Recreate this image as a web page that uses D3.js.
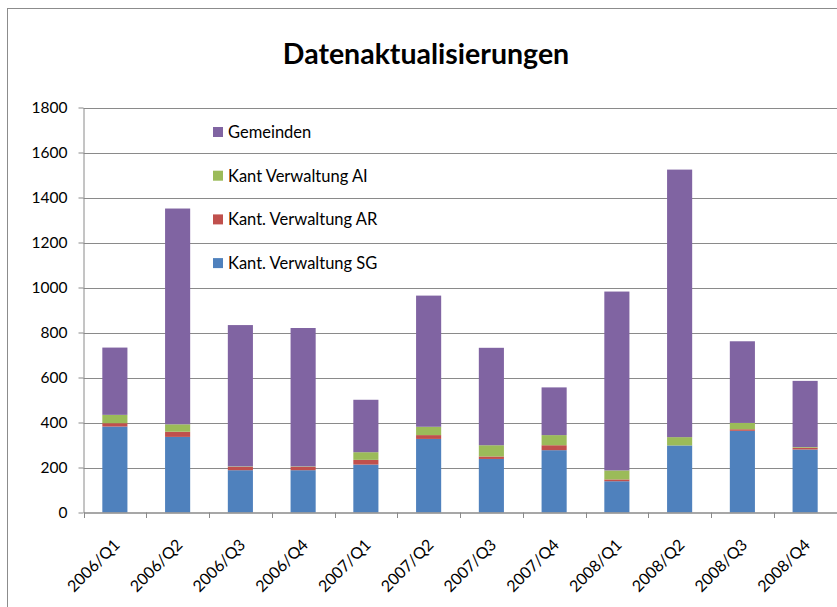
<!DOCTYPE html>
<html>
<head>
<meta charset="utf-8">
<script src="https://cdn.jsdelivr.net/npm/d3@7"></script>
<style>
  body { margin: 0; background: #fff; }
  svg { display: block; font-family: Lato, "Open Sans", sans-serif; }
</style>
</head>
<body>
<svg width="837" height="607"></svg>
<script>
const quarters = ['2006/Q1', '2006/Q2', '2006/Q3', '2006/Q4', '2007/Q1', '2007/Q2',
                  '2007/Q3', '2007/Q4', '2008/Q1', '2008/Q2', '2008/Q3', '2008/Q4'];
const seriesNames = ['Kant. Verwaltung SG', 'Kant. Verwaltung AR', 'Kant Verwaltung AI', 'Gemeinden'];
const sg = [382, 336, 188, 188, 213, 327, 238, 277, 139, 298, 363, 280];
const ar = [15, 23, 15, 15, 21, 17, 11, 22, 8, 0, 7, 8];
const ai = [37, 33, 2, 2, 34, 37, 50, 45, 40, 37, 28, 3];
const gemeinden = [299, 959, 628, 615, 233, 583, 433, 212, 795, 1189, 363, 294];
const yTicks = [0, 200, 400, 600, 800, 1000, 1200, 1400, 1600, 1800];
const colors = ['#4F81BD', '#C0504D', '#9BBB59', '#8064A2'];

const svg = d3.select('svg');

// chart frame (right/bottom edges are off-screen)
svg.append('rect')
  .attr('x', 7.5).attr('y', 8.5)
  .attr('width', 900).attr('height', 700)
  .attr('fill', 'none')
  .attr('stroke', '#8c8c8c');

// title
svg.append('text')
  .attr('x', 426).attr('y', 64)
  .attr('text-anchor', 'middle')
  .style('font-size', '28.5px')
  .style('font-weight', 'bold')
  .text('Datenaktualisierungen');

const x = d3.scaleBand()
  .domain(quarters)
  .range([83.5, 836.5])
  .paddingInner(0.6)
  .paddingOuter(0.3);

const y = d3.scaleLinear()
  .domain([0, 1800])
  .range([512.5, 107.5]);

// gridlines
svg.append('g')
  .selectAll('line')
  .data(yTicks.slice(1))
  .join('line')
  .attr('x1', 83.5).attr('x2', 837)
  .attr('y1', d => Math.round(y(d)) + 0.5)
  .attr('y2', d => Math.round(y(d)) + 0.5)
  .attr('stroke', '#8a8a8a');

// y axis
const yAxis = svg.append('g')
  .attr('transform', 'translate(83.5,0)')
  .call(d3.axisLeft(y).tickValues(yTicks).tickFormat(d3.format('d'))
    .tickSize(5).tickPadding(11).tickSizeOuter(0));
yAxis.select('.domain').attr('stroke', '#8a8a8a');
yAxis.selectAll('line').attr('stroke', '#8a8a8a');
yAxis.selectAll('text').style('font-size', '15.5px').style('font-family', 'Lato, sans-serif').attr('fill', '#000');

// stacked bars
const table = quarters.map((q, i) => ({
  q: q,
  [seriesNames[0]]: sg[i],
  [seriesNames[1]]: ar[i],
  [seriesNames[2]]: ai[i],
  [seriesNames[3]]: gemeinden[i]
}));
const stacked = d3.stack().keys(seriesNames)(table);

svg.append('g')
  .selectAll('g')
  .data(stacked)
  .join('g')
  .attr('fill', (d, i) => colors[i])
  .selectAll('rect')
  .data(d => d)
  .join('rect')
  .attr('x', d => x(d.data.q))
  .attr('width', x.bandwidth())
  .attr('y', d => y(d[1]))
  .attr('height', d => y(d[0]) - y(d[1]));

// x axis
const xAxis = svg.append('g')
  .attr('transform', 'translate(0,512.5)')
  .call(d3.axisBottom(x).tickSize(0).tickSizeOuter(0).tickFormat(''));
xAxis.select('.domain').attr('stroke', '#8a8a8a').attr('stroke-width', 1.5);

// tick marks at band boundaries
svg.append('g')
  .selectAll('line')
  .data(quarters.concat(['end']))
  .join('line')
  .attr('x1', (d, i) => Math.round(83.5 + i * x.step()) + 0.5)
  .attr('x2', (d, i) => Math.round(83.5 + i * x.step()) + 0.5)
  .attr('y1', 512.5).attr('y2', 518)
  .attr('stroke', '#8a8a8a');

// rotated category labels
svg.append('g')
  .selectAll('text')
  .data(quarters)
  .join('text')
  .attr('text-anchor', 'end')
  .attr('transform', d => `translate(${x(d) + x.bandwidth() / 2 + 6},${546}) rotate(-45)`)
  .style('font-size', '16px')
  .text(d => d);

// legend
const legendOrder = [3, 2, 1, 0];
const legend = svg.append('g')
  .selectAll('g')
  .data(legendOrder)
  .join('g')
  .attr('transform', (d, i) => `translate(213,${132 + i * 43.7})`);
legend.append('rect')
  .attr('x', 0).attr('y', -5)
  .attr('width', 10).attr('height', 10)
  .attr('fill', d => colors[d]);
legend.append('text')
  .attr('x', 15).attr('y', 6)
  .style('font-size', '16.5px')
  .text(d => seriesNames[d]);
</script>
</body>
</html>
